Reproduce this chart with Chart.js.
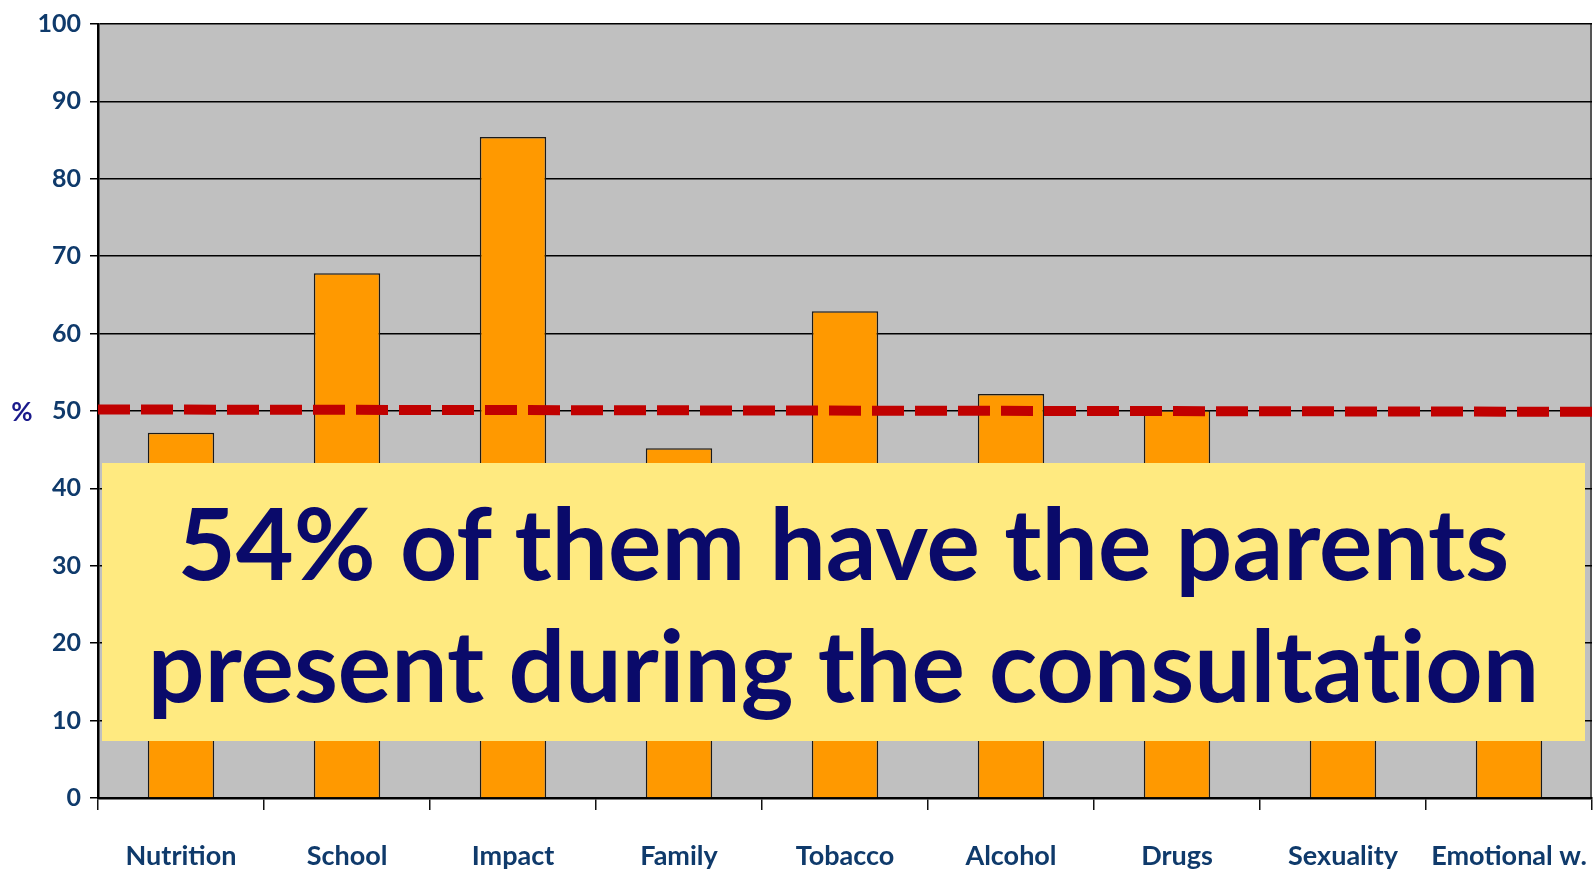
<!DOCTYPE html>
<html>
<head>
<meta charset="utf-8">
<script src="https://cdn.jsdelivr.net/npm/chart.js@4"></script>
<style>
  html, body { margin: 0; padding: 0; background: #fff; }
  #wrap { position: relative; width: 1593px; height: 874px; }
  #note {
    position: absolute; left: 102px; top: 463px; width: 1483px; height: 278px;
    background: #ffea80; color: #0a0a6a;
    font: bold 100px Lato, "Liberation Sans", sans-serif;
    font-variant-ligatures: none; font-feature-settings: "liga" 0;
    line-height: 122px; text-align: center;
    display: flex; flex-direction: column; justify-content: center;
  }
</style>
</head>
<body>
<div id="wrap">
  <canvas id="chart" width="1593" height="874"></canvas>
  <div id="note"><div>54% of them have the parents</div><div>present during the consultation</div></div>
</div>
<script>
// values
const categories = ["Nutrition", "School", "Impact", "Family", "Tobacco", "Alcohol", "Drugs", "Sexuality", "Emotional w."];
const percents = [47.2, 67.8, 85.4, 45.2, 62.9, 52.2, 50.1, 41, 39];
const refLine = [50.2, 49.9];   // dashed 50% line, left edge -> right edge
const yTicks = [0, 10, 20, 30, 40, 50, 60, 70, 80, 90, 100];

const labelBlue = '#0f3a6b';
const axisFont = 'Lato, "Liberation Sans", sans-serif';

// grey plot area + right frame line
const plotBg = {
  id: 'plotBg',
  beforeDraw(chart) {
    const { ctx, chartArea: a } = chart;
    ctx.save();
    ctx.fillStyle = '#c0c0c0';
    ctx.fillRect(a.left, a.top, a.right - a.left, a.bottom - a.top);
    ctx.strokeStyle = '#555';
    ctx.lineWidth = 2;
    ctx.beginPath();
    ctx.moveTo(a.right - 1, a.top);
    ctx.lineTo(a.right - 1, a.bottom);
    ctx.stroke();
    ctx.restore();
  }
};

// red dashed reference line across the whole plot, placed with the y scale
const refDash = {
  id: 'refDash',
  afterDatasetsDraw(chart) {
    const { ctx, chartArea: a, scales } = chart;
    ctx.save();
    ctx.strokeStyle = '#c00000';
    ctx.lineWidth = 10;
    ctx.lineCap = 'butt';
    ctx.setLineDash([32, 11]);
    ctx.beginPath();
    ctx.moveTo(a.left, scales.y.getPixelForValue(refLine[0]));
    ctx.lineTo(a.right, scales.y.getPixelForValue(refLine[1]));
    ctx.stroke();
    ctx.restore();
  }
};

// the "%" axis label sits level with the 50 tick
const pctLabel = {
  id: 'pctLabel',
  afterDraw(chart) {
    const { ctx } = chart;
    const y = chart.scales.y.getPixelForValue(50);
    ctx.save();
    ctx.fillStyle = '#1a1a8c';
    ctx.font = 'bold 26px ' + axisFont;
    ctx.textAlign = 'center';
    ctx.textBaseline = 'middle';
    ctx.fillText('%', 22, y + 2);
    ctx.restore();
  }
};

new Chart(document.getElementById('chart'), {
  type: 'bar',
  data: {
    labels: categories,
    datasets: [
      {
        data: percents,
        backgroundColor: '#ff9900',
        borderColor: '#1a1a1a',
        borderWidth: 1.5,
        barPercentage: 0.4,
        categoryPercentage: 1
      }
    ]
  },
  options: {
    responsive: false,
    animation: false,
    layout: { padding: { top: 22, right: 1, left: 0, bottom: 0 } },
    plugins: {
      legend: { display: false },
      tooltip: { enabled: false }
    },
    scales: {
      x: {
        grid: {
          offset: true,
          drawOnChartArea: false,
          color: '#111',
          lineWidth: 1.5,
          tickLength: 12
        },
        border: { color: '#000', width: 2.5 },
        ticks: {
          color: labelBlue,
          padding: 30,
          maxRotation: 0,
          autoSkip: false,
          font: { family: axisFont, size: 27, weight: 'bold' }
        },
        afterFit(scale) {
          scale.height = 76;
          scale.paddingLeft = 0;
          scale.paddingRight = 0;
        }
      },
      y: {
        min: 0,
        max: 100,
        afterBuildTicks(scale) { scale.ticks = yTicks.map(v => ({ value: v })); },
        grid: {
          color: '#000',
          lineWidth: 1.5,
          tickLength: 8
        },
        border: { color: '#000', width: 2.5 },
        ticks: {
          color: labelBlue,
          padding: 9,
          font: { family: axisFont, size: 25, weight: 'bold' }
        },
        afterFit(scale) { scale.width = 98; }
      }
    }
  },
  plugins: [plotBg, refDash, pctLabel]
});
</script>
</body>
</html>
